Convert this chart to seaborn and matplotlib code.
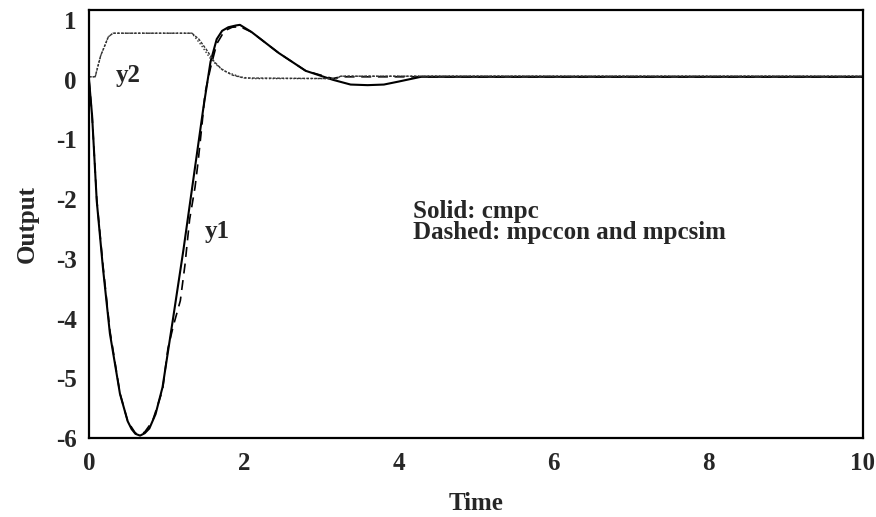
import matplotlib
matplotlib.use("Agg")
import matplotlib.pyplot as plt
import seaborn as sns

# ---- data ----
t_y1_solid = [0, 0.04, 0.10, 0.18, 0.27, 0.40, 0.50, 0.55, 0.60, 0.66, 0.72, 0.78, 0.86,
              0.95, 1.08, 1.22, 1.35, 1.48, 1.57, 1.65, 1.72, 1.80, 1.90, 1.95, 2.10,
              2.30, 2.45, 2.80, 3.15, 3.38, 3.60, 3.81, 4.00, 4.29, 5, 6, 7, 8, 9, 10]
y1_solid = [0, -0.6, -2.03, -3.15, -4.25, -5.26, -5.72, -5.85, -5.93, -5.96, -5.92, -5.84, -5.6,
            -5.15, -4.05, -2.85, -1.65, -0.45, 0.3, 0.68, 0.82, 0.88, 0.91, 0.92, 0.8,
            0.6, 0.45, 0.15, 0.0, -0.08, -0.09, -0.08, -0.03, 0.05, 0.05, 0.05, 0.05, 0.05, 0.05, 0.05]

t_y1_dashed = [0, 0.04, 0.10, 0.18, 0.27, 0.40, 0.50, 0.60, 0.66, 0.72, 0.82, 0.95, 1.02,
               1.09, 1.18, 1.24, 1.30, 1.37, 1.41, 1.46, 1.50, 1.57, 1.65, 1.75, 1.85,
               1.95, 2.10, 2.30, 2.45, 2.80, 3.15, 3.25, 4.29, 5, 6, 7, 8, 9, 10]
y1_dashed = [0, -0.6, -2.0, -3.1, -4.2, -5.25, -5.72, -5.92, -5.94, -5.9, -5.72, -5.2, -4.5,
             -4.12, -3.7, -3.1, -2.34, -1.8, -1.37, -0.75, -0.22, 0.2, 0.6, 0.82, 0.88,
             0.89, 0.8, 0.6, 0.45, 0.15, 0.02, 0.05, 0.05, 0.05, 0.05, 0.05, 0.05, 0.05, 0.05]

t_y2_solid = [0, 0.08, 0.15, 0.25, 0.31, 1.0, 1.33, 1.42, 1.52, 1.62, 1.72, 1.85, 2.0,
              3.2, 3.25, 10]
y2_solid = [0.05, 0.05, 0.4, 0.72, 0.78, 0.78, 0.78, 0.68, 0.5, 0.3, 0.17, 0.08, 0.03,
            0.02, 0.06, 0.06]

t_y2_dashed = [0, 0.08, 0.15, 0.25, 0.31, 1.0, 1.33, 1.45, 1.56, 1.67, 1.78, 1.95, 2.1,
               3.2, 3.25, 10]
y2_dashed = [0.05, 0.05, 0.4, 0.72, 0.78, 0.78, 0.78, 0.58, 0.37, 0.22, 0.13, 0.05, 0.02,
             0.02, 0.06, 0.06]

x_ticks = [0, 2, 4, 6, 8, 10]
y_ticks = [1, 0, -1, -2, -3, -4, -5, -6]

# ---- styling ----
sns.set_style("white")
plt.rcParams['font.family'] = ['Liberation Serif', 'DejaVu Serif']
plt.rcParams['font.weight'] = 'bold'

fig = plt.figure(figsize=(8.76, 5.17), dpi=100)
ax = fig.add_axes([0.1016, 0.1528, 0.8835, 0.828])

sns.lineplot(x=t_y1_solid, y=y1_solid, ax=ax, color='black', lw=1.5,
             estimator=None, sort=False)
sns.lineplot(x=t_y1_dashed, y=y1_dashed, ax=ax, color='black', lw=1.2,
             linestyle=(0, (6, 4)), estimator=None, sort=False)
sns.lineplot(x=t_y2_solid, y=y2_solid, ax=ax, color='#333333', lw=1.0,
             linestyle=(0, (2, 1)), estimator=None, sort=False)
sns.lineplot(x=t_y2_dashed, y=y2_dashed, ax=ax, color='#333333', lw=1.0,
             linestyle=(0, (1, 1.5)), estimator=None, sort=False)

ax.set_xlim(0, 10)
ax.set_ylim(-6, 1.17)
ax.set_xticks(x_ticks)
ax.set_yticks(y_ticks)
ax.set_xticklabels([str(v) for v in x_ticks], fontsize=18, fontweight='bold')
ax.set_yticklabels([str(v) for v in y_ticks], fontsize=18, fontweight='bold')
ax.tick_params(axis='x', length=0, pad=10)
ax.tick_params(axis='y', length=0, pad=9)
for s in ax.spines.values():
    s.set_linewidth(1.6)
    s.set_color('black')

ax.set_xlabel('Time', fontsize=18, fontweight='bold', labelpad=12)
ax.set_ylabel('Output', fontsize=18, fontweight='bold', labelpad=12)

tkw = dict(fontsize=18, fontweight='bold', va='center', ha='left')
ax.text(0.35, 0.08, 'y2', **tkw)
ax.text(1.5, -2.54, 'y1', **tkw)
ax.text(4.19, -2.2, 'Solid: cmpc', **tkw)
ax.text(4.19, -2.56, 'Dashed: mpccon and mpcsim', **tkw)

fig.savefig('out.png', dpi=100)
